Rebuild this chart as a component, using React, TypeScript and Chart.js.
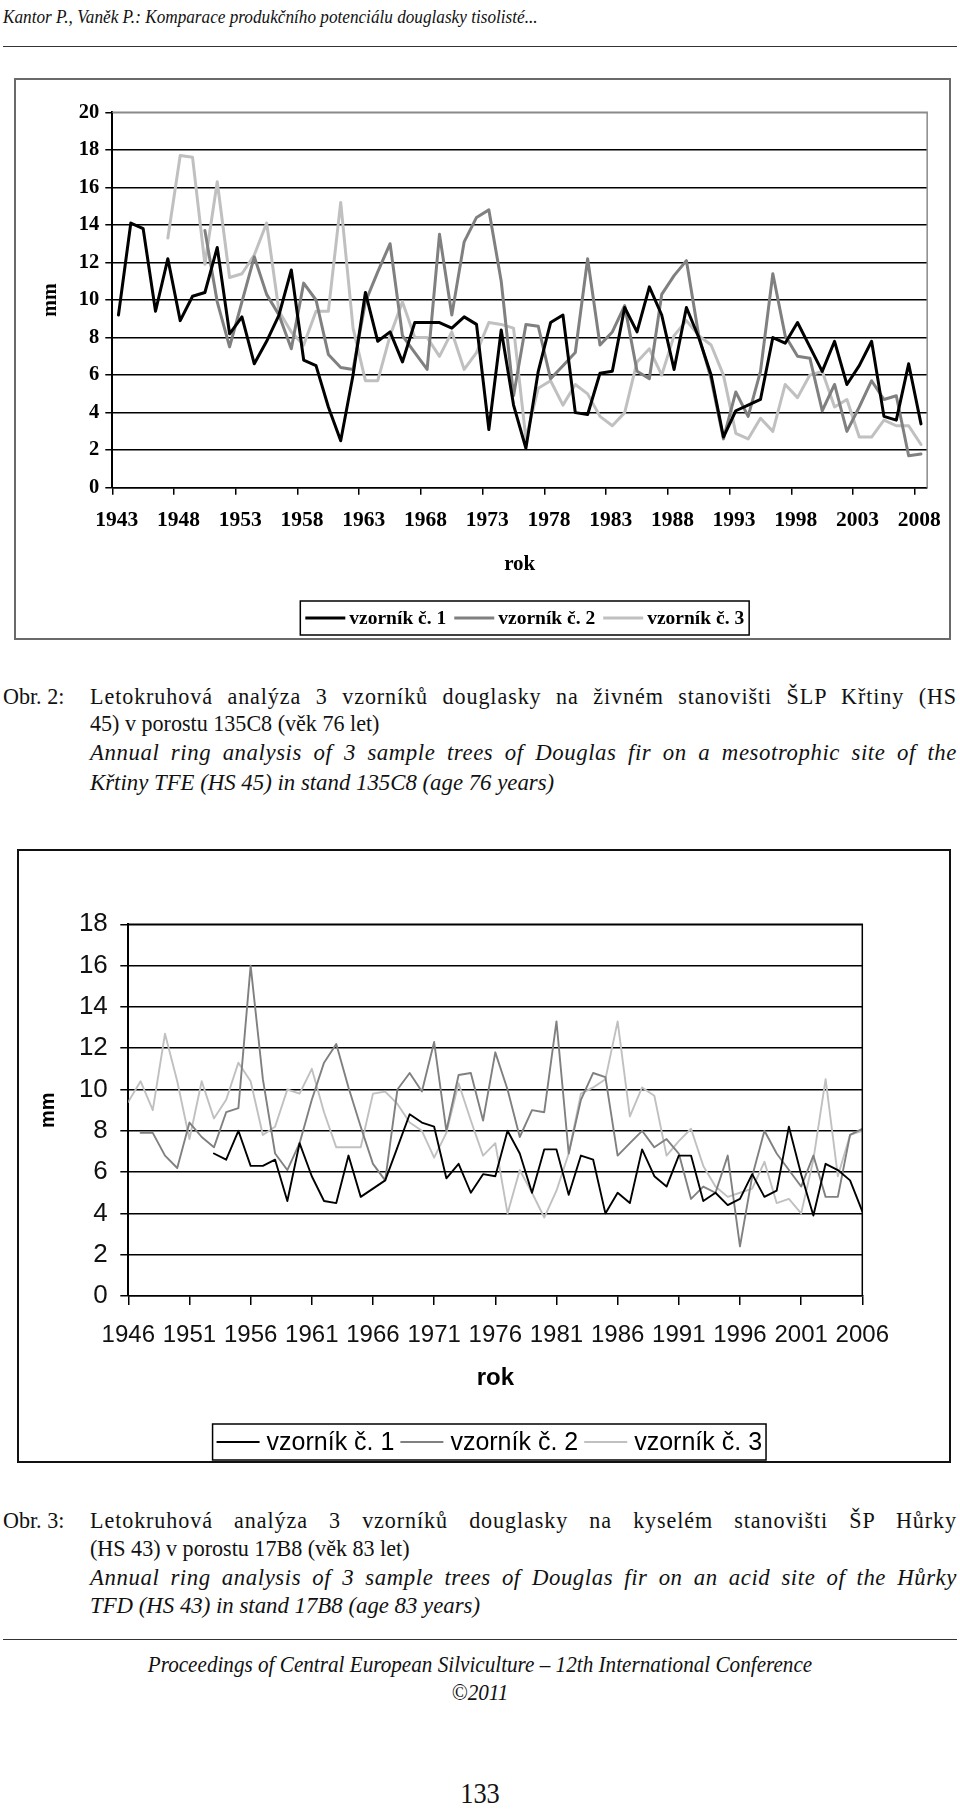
import React, { useEffect, useRef } from 'react';
import { Chart, registerables } from 'chart.js';

Chart.register(...registerables);

// ---------- Data: Obr. 2 (top chart) ----------
const topYears = [
  1943, 1944, 1945, 1946, 1947, 1948, 1949, 1950, 1951, 1952, 1953, 1954, 1955, 1956, 1957, 1958, 1959,
  1960, 1961, 1962, 1963, 1964, 1965, 1966, 1967, 1968, 1969, 1970, 1971, 1972, 1973, 1974, 1975, 1976,
  1977, 1978, 1979, 1980, 1981, 1982, 1983, 1984, 1985, 1986, 1987, 1988, 1989, 1990, 1991, 1992, 1993,
  1994, 1995, 1996, 1997, 1998, 1999, 2000, 2001, 2002, 2003, 2004, 2005, 2006, 2007, 2008,
];
const topTickLabels = ['1943', '1948', '1953', '1958', '1963', '1968', '1973', '1978', '1983', '1988', '1993', '1998', '2003', '2008'];
const topSeries1 = [
  9.2, 14.1, 13.8, 9.4, 12.2, 8.9, 10.2, 10.4, 12.8, 8.2, 9.1, 6.6, 7.8, 9.2, 11.6, 6.8, 6.5,
  4.3, 2.5, 6.0, 10.4, 7.8, 8.3, 6.7, 8.8, 8.8, 8.8, 8.5, 9.1, 8.7, 3.1, 8.4, 4.4, 2.1,
  6.2, 8.8, 9.2, 4.0, 3.9, 6.1, 6.2, 9.6, 8.3, 10.7, 9.2, 6.3, 9.6, 8.0, 6.0, 2.7, 4.1,
  4.4, 4.7, 8.0, 7.7, 8.8, 7.5, 6.2, 7.8, 5.5, 6.5, 7.8, 3.8, 3.6, 6.6, 3.4,
];
const topSeries2 = [
  null, null, null, null, null, null, null, 13.7, 9.9, 7.5, 9.9, 12.3, 10.3, 9.2, 7.4, 10.9, 10.0,
  7.1, 6.4, 6.3, 9.9, 11.5, 13.0, 8.1, 7.2, 6.3, 13.5, 9.2, 13.1, 14.4, 14.8, 11.0, 4.9, 8.7,
  8.6, 5.8, 6.5, 7.2, 12.2, 7.6, 8.3, 9.7, 6.2, 5.8, 10.3, 11.3, 12.1, 8.1, 5.8, 2.6, 5.1,
  3.8, 6.2, 11.4, 8.1, 7.0, 6.9, 4.1, 5.5, 3.0, 4.3, 5.7, 4.7, 4.9, 1.7, 1.8,
];
const topSeries3 = [
  null, null, null, null, 13.3, 17.7, 17.6, 11.9, 16.3, 11.2, 11.4, 12.4, 14.1, 9.4, 8.3, 7.6, 9.4,
  9.4, 15.2, 8.5, 5.7, 5.7, 8.1, 9.9, 8.0, 8.0, 7.0, 8.3, 6.3, 7.2, 8.8, 8.7, 8.5, 2.6,
  5.3, 5.7, 4.4, 5.5, 5.0, 3.8, 3.3, 4.0, 6.7, 7.4, 6.0, 8.1, 8.9, 8.1, 7.6, 6.0, 2.9,
  2.6, 3.7, 3.0, 5.5, 4.8, 6.0, 6.2, 4.3, 4.7, 2.7, 2.7, 3.6, 3.3, 3.3, 2.3,
];
const topLabels = ['vzorník č. 1', 'vzorník č. 2', 'vzorník č. 3'];

// ---------- Data: Obr. 3 (bottom chart) ----------
const bottomYears = [
  1946, 1947, 1948, 1949, 1950, 1951, 1952, 1953, 1954, 1955, 1956, 1957, 1958, 1959, 1960, 1961,
  1962, 1963, 1964, 1965, 1966, 1967, 1968, 1969, 1970, 1971, 1972, 1973, 1974, 1975, 1976, 1977,
  1978, 1979, 1980, 1981, 1982, 1983, 1984, 1985, 1986, 1987, 1988, 1989, 1990, 1991, 1992, 1993,
  1994, 1995, 1996, 1997, 1998, 1999, 2000, 2001, 2002, 2003, 2004, 2005, 2006,
];
const bottomTickLabels = ['1946', '1951', '1956', '1961', '1966', '1971', '1976', '1981', '1986', '1991', '1996', '2001', '2006'];
const bottomSeries1 = [
  null, null, null, null, null, null, null, 6.9, 6.6, 8.0, 6.3, 6.3, 6.6, 4.6, 7.4, 5.8,
  4.6, 4.5, 6.8, 4.8, 5.2, 5.6, 7.2, 8.8, 8.4, 8.2, 5.7, 6.4, 5.0, 5.9, 5.8, 8.0,
  6.9, 5.0, 7.1, 7.1, 4.9, 6.8, 6.6, 4.0, 5.0, 4.5, 7.1, 5.8, 5.3, 6.8, 6.8, 4.6,
  5.0, 4.4, 4.7, 5.9, 4.8, 5.1, 8.2, 5.9, 3.9, 6.4, 6.1, 5.6, 4.1,
];
const bottomSeries2 = [
  null, 7.9, 7.9, 6.8, 6.2, 8.4, 7.7, 7.2, 8.9, 9.1, 16.0, 10.5, 6.9, 6.1, 7.4, 9.5,
  11.3, 12.2, 10.1, 8.2, 6.4, 5.6, 10.0, 10.8, 9.9, 12.3, 8.0, 10.7, 10.8, 8.5, 11.8, 10.0,
  7.7, 9.0, 8.9, 13.3, 6.9, 9.5, 10.8, 10.6, 6.8, 7.4, 8.0, 7.2, 7.6, 6.9, 4.7, 5.3,
  5.0, 6.8, 2.4, 5.8, 8.0, 6.9, 6.1, 5.3, 6.8, 4.8, 4.8, 7.8, 8.1,
];
const bottomSeries3 = [
  9.4, 10.4, 9.0, 12.7, 10.4, 7.6, 10.4, 8.6, 9.5, 11.3, 10.4, 7.8, 8.2, 10.0, 9.8, 11.0,
  8.9, 7.2, 7.2, 7.2, 9.8, 9.9, 9.3, 8.4, 8.0, 6.7, 7.9, 10.3, 8.5, 6.8, 7.4, 4.0,
  6.1, 5.0, 3.8, 5.1, 6.9, 9.8, 10.1, 10.5, 13.3, 8.7, 10.1, 9.7, 6.8, 7.5, 8.1, 6.3,
  5.3, 4.8, 5.0, 5.2, 6.5, 4.5, 4.7, 4.0, 6.6, 10.5, 5.8, 7.8, 8.0,
];
const bottomLabels = ['vzorník č. 1', 'vzorník č. 2', 'vzorník č. 3'];

const seriesColors = ['#000000', '#808080', '#c0c0c0'];

// ---------- Plugins ----------
const boxedLegend = {
  id: 'boxedLegend',
  afterDraw(chart: any, _args: any, opts: any) {
    if (!opts || !opts.display) return;
    const ctx = chart.ctx;
    const ca = chart.chartArea;
    ctx.save();
    ctx.font = opts.font;
    const items = chart.data.datasets.map((ds: any) => ({
      text: ds.label,
      color: ds.borderColor,
      w: ctx.measureText(ds.label).width,
    }));
    const contentW =
      items.reduce((s: number, it: any) => s + opts.sampleW + opts.gap + it.w, 0) +
      opts.itemGap * (items.length - 1);
    const boxW = contentW + opts.padX * 2;
    const cx = (ca.left + ca.right) / 2 + (opts.dx || 0);
    const left = cx - boxW / 2;
    const top = opts.cy - opts.boxH / 2;
    ctx.strokeStyle = opts.borderColor;
    ctx.lineWidth = opts.borderWidth;
    ctx.strokeRect(left, top, boxW, opts.boxH);
    let x = left + opts.padX;
    ctx.textBaseline = 'middle';
    ctx.textAlign = 'left';
    for (const it of items) {
      ctx.strokeStyle = it.color;
      ctx.lineWidth = opts.sampleLW;
      ctx.beginPath();
      ctx.moveTo(x, opts.cy);
      ctx.lineTo(x + opts.sampleW, opts.cy);
      ctx.stroke();
      x += opts.sampleW + opts.gap;
      ctx.fillStyle = opts.textColor;
      ctx.fillText(it.text, x, opts.cy + (opts.textDy || 0));
      x += it.w + opts.itemGap;
    }
    ctx.restore();
  },
};

const plotBorder = {
  id: 'plotBorder',
  afterDatasetsDraw(chart: any, _args: any, opts: any) {
    const { ctx, chartArea: ca } = chart;
    ctx.save();
    ctx.strokeStyle = opts.color;
    ctx.lineWidth = opts.width;
    ctx.beginPath();
    ctx.moveTo(ca.left, ca.top);
    ctx.lineTo(ca.right, ca.top);
    ctx.lineTo(ca.right, ca.bottom);
    ctx.stroke();
    ctx.restore();
  },
};

function makeDataset(label: string, years: number[], vals: (number | null)[], color: string, width: number) {
  return {
    label,
    data: years.map((x, i) => ({ x, y: vals[i] })),
    borderColor: color,
    backgroundColor: color,
    borderWidth: width,
    pointRadius: 0,
    pointHoverRadius: 0,
    tension: 0,
    fill: false,
    spanGaps: false,
    borderJoinStyle: 'round',
    borderCapStyle: 'round',
  };
}

const SERIF = '"Liberation Serif", "Times New Roman", serif';
const SANS = '"Liberation Sans", Arial, sans-serif';

function topConfig(): any {
  return {
    type: 'line',
    data: {
      datasets: [
        makeDataset(topLabels[0], topYears, topSeries1, seriesColors[0], 3),
        makeDataset(topLabels[1], topYears, topSeries2, seriesColors[1], 3),
        makeDataset(topLabels[2], topYears, topSeries3, seriesColors[2], 3),
      ],
    },
    plugins: [plotBorder, boxedLegend],
    options: {
      responsive: false,
      animation: false,
      devicePixelRatio: 1,
      events: [],
      layout: { padding: { top: 32.3, right: 12, bottom: 55.3, left: 0 } },
      plugins: {
        legend: { display: false },
        tooltip: { enabled: false },
        plotBorder: { color: '#8a8a8a', width: 1.5 },
        boxedLegend: {
          display: true,
          font: `bold 19.5px ${SERIF}`,
          cy: 538,
          boxH: 34,
          dx: 5,
          padX: 5,
          sampleW: 40,
          gap: 4,
          itemGap: 8,
          sampleLW: 3,
          borderColor: '#000',
          borderWidth: 1.5,
          textColor: '#000',
          textDy: 1,
        },
      },
      scales: {
        x: {
          type: 'linear',
          min: 1942.5,
          max: 2008.5,
          afterBuildTicks: (s: any) => {
            s.ticks = topTickLabels.map((t) => ({ value: Number(t) - 0.5 }));
          },
          afterFit: (s: any) => {
            s.height = 95;
          },
          grid: { drawOnChartArea: false, drawTicks: true, tickLength: 7, color: '#000', lineWidth: 1.5 },
          border: { display: true, color: '#000', width: 1.5 },
          ticks: {
            autoSkip: false,
            maxRotation: 0,
            minRotation: 0,
            padding: 12.5,
            labelOffset: 4.5,
            color: '#000',
            font: { family: SERIF, weight: 'bold', size: 21.5 },
            callback: (v: number) => String(Math.round(v + 0.5)),
          },
          title: {
            display: true,
            text: 'rok',
            color: '#000',
            font: { family: SERIF, weight: 'bold', size: 21 },
            padding: { top: 0, bottom: 6 },
          },
        },
        y: {
          min: 0,
          max: 20,
          afterFit: (s: any) => {
            s.width = 96.3;
          },
          grid: {
            color: (c: any) => (c.tick && c.tick.value === 20 ? '#8a8a8a' : '#000'),
            tickColor: '#000',
            lineWidth: 1.5,
            tickLength: 7,
            drawTicks: true,
          },
          border: { display: true, color: '#000', width: 2 },
          ticks: {
            stepSize: 2,
            padding: 6.1,
            color: '#000',
            font: { family: SERIF, weight: 'bold', size: 20.5 },
          },
          title: {
            display: true,
            text: 'mm',
            color: '#000',
            font: { family: SERIF, weight: 'bold', size: 20 },
            padding: { top: 23, bottom: 0 },
          },
        },
      },
    },
  };
}

function bottomConfig(): any {
  return {
    type: 'line',
    data: {
      datasets: [
        makeDataset(bottomLabels[0], bottomYears, bottomSeries1, seriesColors[0], 1.9),
        makeDataset(bottomLabels[1], bottomYears, bottomSeries2, seriesColors[1], 1.9),
        makeDataset(bottomLabels[2], bottomYears, bottomSeries3, seriesColors[2], 1.9),
      ],
    },
    plugins: [plotBorder, boxedLegend],
    options: {
      responsive: false,
      animation: false,
      devicePixelRatio: 1,
      events: [],
      layout: { padding: { top: 73.3, right: 86.7, bottom: 67, left: 0 } },
      plugins: {
        legend: { display: false },
        tooltip: { enabled: false },
        plotBorder: { color: '#000', width: 1.5 },
        boxedLegend: {
          display: true,
          font: `25px ${SANS}`,
          cy: 591,
          boxH: 36,
          dx: -6,
          padX: 4,
          sampleW: 43,
          gap: 7,
          itemGap: 6,
          sampleLW: 2,
          borderColor: '#000',
          borderWidth: 1.5,
          textColor: '#000',
          textDy: 1,
        },
      },
      scales: {
        x: {
          type: 'linear',
          min: 1946,
          max: 2006,
          afterBuildTicks: (s: any) => {
            s.ticks = bottomTickLabels.map((t) => ({ value: Number(t) }));
          },
          afterFit: (s: any) => {
            s.height = 98;
          },
          grid: { drawOnChartArea: false, drawTicks: true, tickLength: 9, color: '#000', lineWidth: 1.5 },
          border: { display: true, color: '#000', width: 1.5 },
          ticks: {
            autoSkip: false,
            maxRotation: 0,
            minRotation: 0,
            padding: 15.6,
            color: '#111',
            font: { family: SANS, size: 24 },
            callback: (v: number) => String(Math.round(v)),
          },
          title: {
            display: true,
            text: 'rok',
            color: '#000',
            font: { family: SANS, weight: 'bold', size: 24 },
            padding: { top: 0, bottom: 1.6 },
          },
        },
        y: {
          min: 0,
          max: 18,
          afterFit: (s: any) => {
            s.width = 109.3;
          },
          grid: { color: '#000', lineWidth: 1.5, tickLength: 8, drawTicks: true },
          border: { display: true, color: '#000', width: 2 },
          ticks: {
            stepSize: 2,
            padding: 12.5,
            color: '#111',
            font: { family: SANS, size: 26 },
          },
          title: {
            display: true,
            text: 'mm',
            color: '#000',
            font: { family: SANS, weight: 'bold', size: 20 },
            padding: { top: 17.5, bottom: 0 },
          },
        },
      },
    },
  };
}

function ChartBox(props: {
  left: number;
  top: number;
  width: number;
  height: number;
  border: string;
  config: () => any;
}) {
  const ref = useRef<HTMLCanvasElement>(null);
  const cw = props.width - 4;
  const ch = props.height - 4;
  useEffect(() => {
    const chart = new Chart(ref.current as HTMLCanvasElement, props.config());
    return () => chart.destroy();
  }, []);
  return (
    <div
      style={{
        position: 'absolute',
        left: props.left,
        top: props.top,
        width: props.width,
        height: props.height,
        border: `2px solid ${props.border}`,
        boxSizing: 'border-box',
        background: '#fff',
      }}
    >
      <canvas
        ref={ref}
        width={cw}
        height={ch}
        style={{ position: 'absolute', left: 0, top: 0, width: cw, height: ch }}
      />
    </div>
  );
}

function TextLine(props: {
  x: number;
  y: number;
  text: string;
  size?: number;
  italic?: boolean;
  w?: number;
  justify?: boolean;
  sx?: number;
  ls?: number;
  center?: boolean;
}) {
  const size = props.size ?? 24;
  const sx = props.sx ?? (props.italic ? 0.95 : 0.92);
  const style: React.CSSProperties = {
    position: 'absolute',
    top: props.y - size / 2,
    fontFamily: SERIF,
    fontSize: size,
    fontStyle: props.italic ? 'italic' : 'normal',
    lineHeight: `${size}px`,
    color: '#111',
    whiteSpace: 'nowrap',
    letterSpacing: props.ls ? `${props.ls}px` : 'normal',
    transform: `scaleX(${sx})`,
    transformOrigin: props.center ? 'center' : 'left',
  };
  if (props.center) {
    style.left = props.x - 500;
    style.width = 1000;
    style.textAlign = 'center';
  } else {
    style.left = props.x;
    if (props.justify && props.w) {
      style.width = props.w / sx;
      style.textAlign = 'justify';
      style.textAlignLast = 'justify';
      style.whiteSpace = 'normal';
    }
  }
  return <div style={style}>{props.text}</div>;
}

export default function App() {
  return (
    <div
      style={{
        position: 'absolute',
        left: 0,
        top: 0,
        width: 960,
        height: 1809,
        background: '#fff',
        overflow: 'hidden',
      }}
    >
      <TextLine
        x={3}
        y={16}
        size={19}
        sx={0.905}
        italic
        text="Kantor P., Vaněk P.: Komparace produkčního potenciálu douglasky tisolisté..."
      />
      <div style={{ position: 'absolute', left: 3, top: 45.5, width: 954, height: 1.3, background: '#333' }} />

      <ChartBox left={14} top={78} width={937} height={562} border="#6a6a6a" config={topConfig} />

      <TextLine x={3} y={696} text="Obr. 2:" />
      <TextLine
        x={90}
        y={696}
        justify
        w={867}
        ls={1}
        text="Letokruhová analýza 3 vzorníků douglasky na živném stanovišti ŠLP Křtiny (HS"
      />
      <TextLine x={90} y={723} text="45) v porostu 135C8 (věk 76 let)" />
      <TextLine
        x={90}
        y={752}
        italic
        justify
        w={867}
        ls={0.6}
        text="Annual ring analysis of 3 sample trees of Douglas fir on a mesotrophic site of the"
      />
      <TextLine x={90} y={782} italic text="Křtiny TFE (HS 45) in stand 135C8 (age 76 years)" />

      <ChartBox left={17} top={849} width={934} height={614} border="#111" config={bottomConfig} />

      <TextLine x={3} y={1520} text="Obr. 3:" />
      <TextLine
        x={90}
        y={1520}
        justify
        w={867}
        ls={1}
        text="Letokruhová analýza 3 vzorníků douglasky na kyselém stanovišti ŠP Hůrky"
      />
      <TextLine x={90} y={1548} text="(HS 43) v porostu 17B8 (věk 83 let)" />
      <TextLine
        x={90}
        y={1577}
        italic
        justify
        w={867}
        ls={0.6}
        text="Annual ring analysis of 3 sample trees of Douglas fir on an acid site of the Hůrky"
      />
      <TextLine x={90} y={1605} italic text="TFD (HS 43) in stand 17B8 (age 83 years)" />

      <div style={{ position: 'absolute', left: 3, top: 1639, width: 954, height: 1.3, background: '#333' }} />
      <TextLine
        x={480}
        y={1664}
        center
        italic
        size={23}
        sx={0.92}
        text="Proceedings of Central European Silviculture – 12th International Conference"
      />
      <TextLine x={480} y={1692} center italic size={23} sx={0.92} text="©2011" />
      <TextLine x={480} y={1793} center size={30} sx={0.88} text="133" />
    </div>
  );
}
